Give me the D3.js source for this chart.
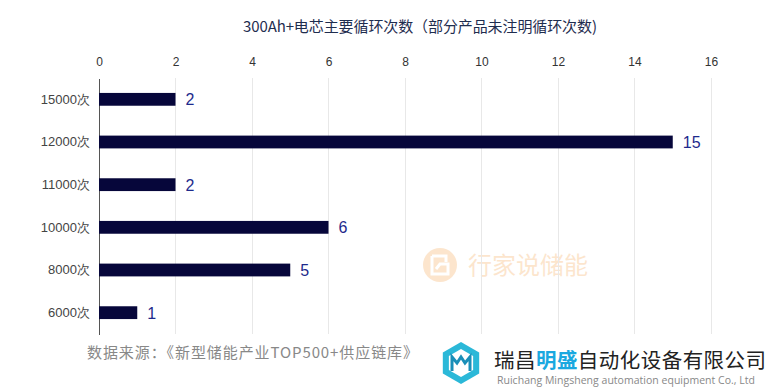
<!DOCTYPE html>
<html><head><meta charset="utf-8">
<script src="https://cdn.jsdelivr.net/npm/d3@7"></script>
<style>body{margin:0;background:#fff;}svg{display:block;font-family:"Noto Sans CJK SC","Microsoft YaHei",sans-serif;}</style>
</head><body>
<svg id="c" width="770" height="390"></svg>
<script>
const categories = ["15000次","12000次","11000次","10000次","8000次","6000次"];
const values = [2,15,2,6,5,1];
const xTicks = [0,2,4,6,8,10,12,14,16];
const title = "300Ah+电芯主要循环次数（部分产品未注明循环次数)";
const source = "数据来源：《新型储能产业TOP500+供应链库》";

const svg = d3.select("#c");
const m = {l:99, r:711, t:78, b:334};
const x = d3.scaleLinear().domain([0,16]).range([m.l,m.r]);
const y = d3.scaleBand().domain(categories).range([m.t,m.b]).paddingInner(0.7).paddingOuter(0.35);

// watermark
const wm = svg.append("g").attr("opacity",0.28);
wm.append("circle").attr("cx",440).attr("cy",265).attr("r",17).attr("fill","#f5a54f");
wm.append("path").attr("d","M432 256 h14 v6 M432 256 v18 h16 v-10 h-8 l-4 5").attr("fill","none").attr("stroke","#fff").attr("stroke-width",3);
wm.append("text").attr("x",468).attr("y",274).attr("font-size",24).attr("fill","#f5a54f").text("行家说储能");

// title
svg.append("text").attr("x",420).attr("y",32).attr("text-anchor","middle").attr("font-size",15).attr("fill","#1f2d4f")
  .attr("textLength",354).text(title);

// grid
svg.append("g").selectAll("line").data(xTicks.slice(1)).join("line")
  .attr("x1",d=>x(d)).attr("x2",d=>x(d)).attr("y1",m.t).attr("y2",m.b)
  .attr("stroke","#e8e8e8").attr("stroke-width",1).attr("shape-rendering","crispEdges");

// top axis
const ax = svg.append("g").attr("transform",`translate(0,${m.t})`)
  .call(d3.axisTop(x).tickValues(xTicks).tickSize(0).tickPadding(12));
ax.select(".domain").remove();
ax.selectAll("text").attr("font-size",12).attr("fill","#333").attr("font-family","Liberation Sans, Arial, sans-serif");

// left axis
const ay = svg.append("g").attr("transform",`translate(${m.l},0)`)
  .call(d3.axisLeft(y).tickSize(0).tickPadding(9));
ay.select(".domain").attr("stroke","#555").attr("shape-rendering","crispEdges");
ay.selectAll("text").attr("font-size",13).attr("fill","#444");

// bars
svg.append("g").selectAll("rect").data(values).join("rect")
  .attr("x",x(0)).attr("y",(d,i)=>y(categories[i])).attr("width",d=>x(d)-x(0)).attr("height",y.bandwidth())
  .attr("fill","#06063a");

svg.append("g").selectAll("text").data(values).join("text")
  .attr("x",d=>x(d)+10).attr("y",(d,i)=>y(categories[i])+y.bandwidth()/2+6)
  .attr("font-size",16).attr("fill","#1e2a8c").attr("font-family","Liberation Sans, Arial, sans-serif").text(d=>d);

// source
svg.append("text").attr("x",87).attr("y",358).attr("font-size",15).attr("fill","#888").attr("textLength",331).text(source);

// company logo
const lg = svg.append("g");
const hx=461, hy=363, hr=21;
const hex = d3.range(6).map(i=>{const a=Math.PI/3*i+Math.PI/6;return [hx+hr*Math.cos(a),hy+hr*Math.sin(a)];});
lg.append("polygon").attr("points",hex.map(p=>p.join(",")).join(" ")).attr("fill","#2bb8d8");
const hex2 = d3.range(6).map(i=>{const a=Math.PI/3*i+Math.PI/6;return [hx+14*Math.cos(a),hy+14*Math.sin(a)];});
lg.append("polygon").attr("points",hex2.map(p=>p.join(",")).join(" ")).attr("fill","#fff");
lg.append("path").attr("d",`M${hx-9} ${hy+8} v-14 l5 6 l4 -6 l4 6 l5 -6 v14`).attr("fill","none").attr("stroke","#1a8fb8").attr("stroke-width",3);
const t1 = lg.append("text").attr("x",494).attr("y",368).attr("font-size",20.5).attr("fill","#222").attr("textLength",272);
t1.append("tspan").text("瑞昌");
t1.append("tspan").attr("fill","#1aa8e0").attr("font-weight","bold").text("明盛");
t1.append("tspan").text("自动化设备有限公司");
lg.append("text").attr("x",497).attr("y",384).attr("font-size",10.5).attr("fill","#888").attr("font-family","Open Sans, sans-serif").attr("textLength",258).text("Ruichang Mingsheng automation equipment Co., Ltd");
</script>
</body></html>
